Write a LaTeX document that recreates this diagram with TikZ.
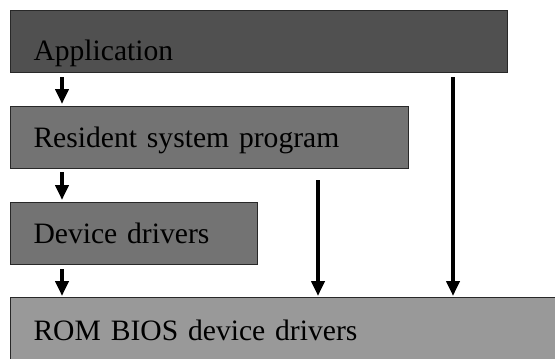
\documentclass[tikz,border=0pt]{standalone}
\usepackage{fontspec}
\setmainfont{Liberation Serif}
\usetikzlibrary{arrows.meta}
\definecolor{appColor}{RGB}{80,80,80}
\definecolor{midColor}{RGB}{115,115,115}
\definecolor{romColor}{RGB}{153,153,153}
\definecolor{edgeColor}{RGB}{40,40,40}
\tikzstyle{layer} = [draw=edgeColor, line width=1bp, anchor=north west, inner xsep=23bp, inner ysep=0pt, align=left, font=\fontsize{29.6bp}{36bp}\selectfont]
\tikzstyle{flowArrow} = [line width=4bp, -{Triangle[width=13bp, length=15bp]}]
\begin{document}
\begin{tikzpicture}[x=1bp, y=-1bp]
  \useasboundingbox (0,0) rectangle (555,358);
  \clip (0,0) rectangle (555,358);
  % layers
  \node [layer, fill=appColor, text width=451bp, text height=50bp, text depth=12bp] (app) at (10,10) {Application};
  \node [layer, fill=midColor, text width=352bp, text height=41bp, text depth=21bp] (res) at (10,106) {Resident system program};
  \node [layer, fill=midColor, text width=201bp, text height=41bp, text depth=21bp] (dev) at (10,202) {Device drivers};
  \node [layer, fill=romColor, text width=540bp, text height=43bp, text depth=37bp] (rom) at (10,297) {ROM BIOS device drivers};
  % lanes
  \coordinate (leftLane) at (62,0);
  \coordinate (midLane) at (318,180);
  \coordinate (rightLane) at (453,0);
  \draw [flowArrow, shorten <=4bp, shorten >=2bp] (app.south -| leftLane) -- (res.north -| leftLane);
  \draw [flowArrow, shorten <=3bp, shorten >=2bp] (res.south -| leftLane) -- (dev.north -| leftLane);
  \draw [flowArrow, shorten <=4bp, shorten >=1bp] (dev.south -| leftLane) -- (rom.north -| leftLane);
  \draw [flowArrow, shorten >=1bp] (midLane) -- (rom.north -| midLane);
  \draw [flowArrow, shorten <=4bp, shorten >=1bp] (app.south -| rightLane) -- (rom.north -| rightLane);
\end{tikzpicture}
\end{document}
